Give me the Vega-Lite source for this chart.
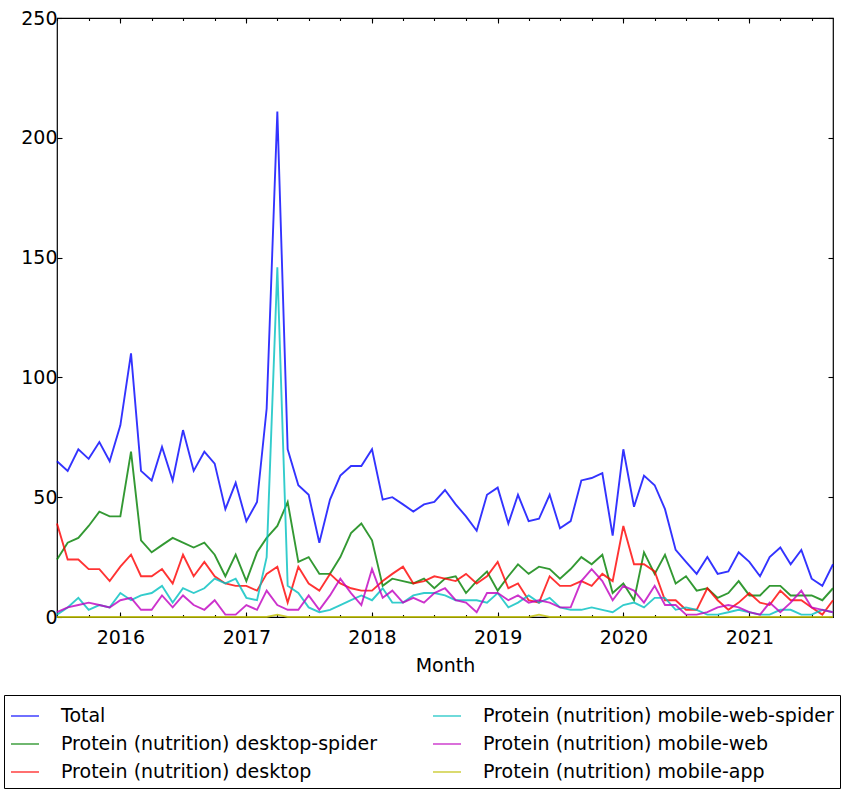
{
  "$schema": "https://vega.github.io/schema/vega-lite/v6.json",
  "width": 776,
  "height": 599,
  "autosize": {"type": "none"},
  "padding": {"left": 57, "top": 18, "right": 24, "bottom": 177},
  "background": "white",
  "config": {
    "font": "DejaVu Sans",
    "view": {"stroke": "black", "strokeWidth": 1.2},
    "axis": {
      "domain": false,
      "grid": false,
      "tickColor": "black",
      "tickWidth": 1.1,
      "labelColor": "black",
      "labelFont": "DejaVu Sans",
      "labelFontSize": 19,
      "titleFont": "DejaVu Sans",
      "titleFontSize": 19,
      "titleFontWeight": "normal",
      "titleColor": "black"
    }
  },
  "data": {
    "values": [
      {"month": "2015-07-01", "Total": 65, "Protein (nutrition) desktop-spider": 24, "Protein (nutrition) desktop": 39, "Protein (nutrition) mobile-web-spider": 1, "Protein (nutrition) mobile-web": 2, "Protein (nutrition) mobile-app": 0},
      {"month": "2015-08-01", "Total": 61, "Protein (nutrition) desktop-spider": 31, "Protein (nutrition) desktop": 24, "Protein (nutrition) mobile-web-spider": 4, "Protein (nutrition) mobile-web": 4, "Protein (nutrition) mobile-app": 0},
      {"month": "2015-09-01", "Total": 70, "Protein (nutrition) desktop-spider": 33, "Protein (nutrition) desktop": 24, "Protein (nutrition) mobile-web-spider": 8, "Protein (nutrition) mobile-web": 5, "Protein (nutrition) mobile-app": 0},
      {"month": "2015-10-01", "Total": 66, "Protein (nutrition) desktop-spider": 38, "Protein (nutrition) desktop": 20, "Protein (nutrition) mobile-web-spider": 3, "Protein (nutrition) mobile-web": 6, "Protein (nutrition) mobile-app": 0},
      {"month": "2015-11-01", "Total": 73, "Protein (nutrition) desktop-spider": 44, "Protein (nutrition) desktop": 20, "Protein (nutrition) mobile-web-spider": 5, "Protein (nutrition) mobile-web": 5, "Protein (nutrition) mobile-app": 0},
      {"month": "2015-12-01", "Total": 65, "Protein (nutrition) desktop-spider": 42, "Protein (nutrition) desktop": 15, "Protein (nutrition) mobile-web-spider": 4, "Protein (nutrition) mobile-web": 4, "Protein (nutrition) mobile-app": 0},
      {"month": "2016-01-01", "Total": 80, "Protein (nutrition) desktop-spider": 42, "Protein (nutrition) desktop": 21, "Protein (nutrition) mobile-web-spider": 10, "Protein (nutrition) mobile-web": 7, "Protein (nutrition) mobile-app": 0},
      {"month": "2016-02-01", "Total": 110, "Protein (nutrition) desktop-spider": 69, "Protein (nutrition) desktop": 26, "Protein (nutrition) mobile-web-spider": 7, "Protein (nutrition) mobile-web": 8, "Protein (nutrition) mobile-app": 0},
      {"month": "2016-03-01", "Total": 61, "Protein (nutrition) desktop-spider": 32, "Protein (nutrition) desktop": 17, "Protein (nutrition) mobile-web-spider": 9, "Protein (nutrition) mobile-web": 3, "Protein (nutrition) mobile-app": 0},
      {"month": "2016-04-01", "Total": 57, "Protein (nutrition) desktop-spider": 27, "Protein (nutrition) desktop": 17, "Protein (nutrition) mobile-web-spider": 10, "Protein (nutrition) mobile-web": 3, "Protein (nutrition) mobile-app": 0},
      {"month": "2016-05-01", "Total": 71, "Protein (nutrition) desktop-spider": 30, "Protein (nutrition) desktop": 20, "Protein (nutrition) mobile-web-spider": 13, "Protein (nutrition) mobile-web": 9, "Protein (nutrition) mobile-app": 0},
      {"month": "2016-06-01", "Total": 57, "Protein (nutrition) desktop-spider": 33, "Protein (nutrition) desktop": 14, "Protein (nutrition) mobile-web-spider": 6, "Protein (nutrition) mobile-web": 4, "Protein (nutrition) mobile-app": 0},
      {"month": "2016-07-01", "Total": 78, "Protein (nutrition) desktop-spider": 31, "Protein (nutrition) desktop": 26, "Protein (nutrition) mobile-web-spider": 12, "Protein (nutrition) mobile-web": 9, "Protein (nutrition) mobile-app": 0},
      {"month": "2016-08-01", "Total": 61, "Protein (nutrition) desktop-spider": 29, "Protein (nutrition) desktop": 17, "Protein (nutrition) mobile-web-spider": 10, "Protein (nutrition) mobile-web": 5, "Protein (nutrition) mobile-app": 0},
      {"month": "2016-09-01", "Total": 69, "Protein (nutrition) desktop-spider": 31, "Protein (nutrition) desktop": 23, "Protein (nutrition) mobile-web-spider": 12, "Protein (nutrition) mobile-web": 3, "Protein (nutrition) mobile-app": 0},
      {"month": "2016-10-01", "Total": 64, "Protein (nutrition) desktop-spider": 26, "Protein (nutrition) desktop": 17, "Protein (nutrition) mobile-web-spider": 16, "Protein (nutrition) mobile-web": 7, "Protein (nutrition) mobile-app": 0},
      {"month": "2016-11-01", "Total": 45, "Protein (nutrition) desktop-spider": 17, "Protein (nutrition) desktop": 14, "Protein (nutrition) mobile-web-spider": 14, "Protein (nutrition) mobile-web": 1, "Protein (nutrition) mobile-app": 0},
      {"month": "2016-12-01", "Total": 56, "Protein (nutrition) desktop-spider": 26, "Protein (nutrition) desktop": 13, "Protein (nutrition) mobile-web-spider": 16, "Protein (nutrition) mobile-web": 1, "Protein (nutrition) mobile-app": 0},
      {"month": "2017-01-01", "Total": 40, "Protein (nutrition) desktop-spider": 15, "Protein (nutrition) desktop": 13, "Protein (nutrition) mobile-web-spider": 8, "Protein (nutrition) mobile-web": 5, "Protein (nutrition) mobile-app": 0},
      {"month": "2017-02-01", "Total": 48, "Protein (nutrition) desktop-spider": 27, "Protein (nutrition) desktop": 11, "Protein (nutrition) mobile-web-spider": 7, "Protein (nutrition) mobile-web": 3, "Protein (nutrition) mobile-app": 0},
      {"month": "2017-03-01", "Total": 87, "Protein (nutrition) desktop-spider": 33, "Protein (nutrition) desktop": 18, "Protein (nutrition) mobile-web-spider": 25, "Protein (nutrition) mobile-web": 11, "Protein (nutrition) mobile-app": 0},
      {"month": "2017-04-01", "Total": 211, "Protein (nutrition) desktop-spider": 38, "Protein (nutrition) desktop": 21, "Protein (nutrition) mobile-web-spider": 146, "Protein (nutrition) mobile-web": 5, "Protein (nutrition) mobile-app": 1},
      {"month": "2017-05-01", "Total": 70, "Protein (nutrition) desktop-spider": 48, "Protein (nutrition) desktop": 6, "Protein (nutrition) mobile-web-spider": 13, "Protein (nutrition) mobile-web": 3, "Protein (nutrition) mobile-app": 0},
      {"month": "2017-06-01", "Total": 55, "Protein (nutrition) desktop-spider": 23, "Protein (nutrition) desktop": 21, "Protein (nutrition) mobile-web-spider": 10, "Protein (nutrition) mobile-web": 3, "Protein (nutrition) mobile-app": 0},
      {"month": "2017-07-01", "Total": 51, "Protein (nutrition) desktop-spider": 25, "Protein (nutrition) desktop": 14, "Protein (nutrition) mobile-web-spider": 4, "Protein (nutrition) mobile-web": 9, "Protein (nutrition) mobile-app": 0},
      {"month": "2017-08-01", "Total": 31, "Protein (nutrition) desktop-spider": 18, "Protein (nutrition) desktop": 11, "Protein (nutrition) mobile-web-spider": 2, "Protein (nutrition) mobile-web": 3, "Protein (nutrition) mobile-app": 0},
      {"month": "2017-09-01", "Total": 49, "Protein (nutrition) desktop-spider": 18, "Protein (nutrition) desktop": 18, "Protein (nutrition) mobile-web-spider": 3, "Protein (nutrition) mobile-web": 9, "Protein (nutrition) mobile-app": 0},
      {"month": "2017-10-01", "Total": 59, "Protein (nutrition) desktop-spider": 25, "Protein (nutrition) desktop": 14, "Protein (nutrition) mobile-web-spider": 5, "Protein (nutrition) mobile-web": 16, "Protein (nutrition) mobile-app": 0},
      {"month": "2017-11-01", "Total": 63, "Protein (nutrition) desktop-spider": 35, "Protein (nutrition) desktop": 12, "Protein (nutrition) mobile-web-spider": 7, "Protein (nutrition) mobile-web": 10, "Protein (nutrition) mobile-app": 0},
      {"month": "2017-12-01", "Total": 63, "Protein (nutrition) desktop-spider": 39, "Protein (nutrition) desktop": 11, "Protein (nutrition) mobile-web-spider": 9, "Protein (nutrition) mobile-web": 5, "Protein (nutrition) mobile-app": 0},
      {"month": "2018-01-01", "Total": 70, "Protein (nutrition) desktop-spider": 32, "Protein (nutrition) desktop": 11, "Protein (nutrition) mobile-web-spider": 7, "Protein (nutrition) mobile-web": 20, "Protein (nutrition) mobile-app": 0},
      {"month": "2018-02-01", "Total": 49, "Protein (nutrition) desktop-spider": 13, "Protein (nutrition) desktop": 15, "Protein (nutrition) mobile-web-spider": 12, "Protein (nutrition) mobile-web": 8, "Protein (nutrition) mobile-app": 0},
      {"month": "2018-03-01", "Total": 50, "Protein (nutrition) desktop-spider": 16, "Protein (nutrition) desktop": 18, "Protein (nutrition) mobile-web-spider": 6, "Protein (nutrition) mobile-web": 11, "Protein (nutrition) mobile-app": 0},
      {"month": "2018-04-01", "Total": 47, "Protein (nutrition) desktop-spider": 15, "Protein (nutrition) desktop": 21, "Protein (nutrition) mobile-web-spider": 6, "Protein (nutrition) mobile-web": 6, "Protein (nutrition) mobile-app": 0},
      {"month": "2018-05-01", "Total": 44, "Protein (nutrition) desktop-spider": 14, "Protein (nutrition) desktop": 14, "Protein (nutrition) mobile-web-spider": 9, "Protein (nutrition) mobile-web": 8, "Protein (nutrition) mobile-app": 0},
      {"month": "2018-06-01", "Total": 47, "Protein (nutrition) desktop-spider": 16, "Protein (nutrition) desktop": 15, "Protein (nutrition) mobile-web-spider": 10, "Protein (nutrition) mobile-web": 6, "Protein (nutrition) mobile-app": 0},
      {"month": "2018-07-01", "Total": 48, "Protein (nutrition) desktop-spider": 12, "Protein (nutrition) desktop": 17, "Protein (nutrition) mobile-web-spider": 10, "Protein (nutrition) mobile-web": 10, "Protein (nutrition) mobile-app": 0},
      {"month": "2018-08-01", "Total": 53, "Protein (nutrition) desktop-spider": 16, "Protein (nutrition) desktop": 16, "Protein (nutrition) mobile-web-spider": 9, "Protein (nutrition) mobile-web": 12, "Protein (nutrition) mobile-app": 0},
      {"month": "2018-09-01", "Total": 47, "Protein (nutrition) desktop-spider": 17, "Protein (nutrition) desktop": 15, "Protein (nutrition) mobile-web-spider": 7, "Protein (nutrition) mobile-web": 7, "Protein (nutrition) mobile-app": 0},
      {"month": "2018-10-01", "Total": 42, "Protein (nutrition) desktop-spider": 10, "Protein (nutrition) desktop": 18, "Protein (nutrition) mobile-web-spider": 7, "Protein (nutrition) mobile-web": 6, "Protein (nutrition) mobile-app": 0},
      {"month": "2018-11-01", "Total": 36, "Protein (nutrition) desktop-spider": 15, "Protein (nutrition) desktop": 14, "Protein (nutrition) mobile-web-spider": 7, "Protein (nutrition) mobile-web": 2, "Protein (nutrition) mobile-app": 0},
      {"month": "2018-12-01", "Total": 51, "Protein (nutrition) desktop-spider": 19, "Protein (nutrition) desktop": 17, "Protein (nutrition) mobile-web-spider": 6, "Protein (nutrition) mobile-web": 10, "Protein (nutrition) mobile-app": 0},
      {"month": "2019-01-01", "Total": 54, "Protein (nutrition) desktop-spider": 11, "Protein (nutrition) desktop": 23, "Protein (nutrition) mobile-web-spider": 10, "Protein (nutrition) mobile-web": 10, "Protein (nutrition) mobile-app": 0},
      {"month": "2019-02-01", "Total": 39, "Protein (nutrition) desktop-spider": 17, "Protein (nutrition) desktop": 12, "Protein (nutrition) mobile-web-spider": 4, "Protein (nutrition) mobile-web": 7, "Protein (nutrition) mobile-app": 0},
      {"month": "2019-03-01", "Total": 51, "Protein (nutrition) desktop-spider": 22, "Protein (nutrition) desktop": 14, "Protein (nutrition) mobile-web-spider": 6, "Protein (nutrition) mobile-web": 9, "Protein (nutrition) mobile-app": 0},
      {"month": "2019-04-01", "Total": 40, "Protein (nutrition) desktop-spider": 18, "Protein (nutrition) desktop": 7, "Protein (nutrition) mobile-web-spider": 9, "Protein (nutrition) mobile-web": 6, "Protein (nutrition) mobile-app": 0},
      {"month": "2019-05-01", "Total": 41, "Protein (nutrition) desktop-spider": 21, "Protein (nutrition) desktop": 6, "Protein (nutrition) mobile-web-spider": 6, "Protein (nutrition) mobile-web": 7, "Protein (nutrition) mobile-app": 1},
      {"month": "2019-06-01", "Total": 51, "Protein (nutrition) desktop-spider": 20, "Protein (nutrition) desktop": 17, "Protein (nutrition) mobile-web-spider": 8, "Protein (nutrition) mobile-web": 6, "Protein (nutrition) mobile-app": 0},
      {"month": "2019-07-01", "Total": 37, "Protein (nutrition) desktop-spider": 16, "Protein (nutrition) desktop": 13, "Protein (nutrition) mobile-web-spider": 4, "Protein (nutrition) mobile-web": 4, "Protein (nutrition) mobile-app": 0},
      {"month": "2019-08-01", "Total": 40, "Protein (nutrition) desktop-spider": 20, "Protein (nutrition) desktop": 13, "Protein (nutrition) mobile-web-spider": 3, "Protein (nutrition) mobile-web": 4, "Protein (nutrition) mobile-app": 0},
      {"month": "2019-09-01", "Total": 57, "Protein (nutrition) desktop-spider": 25, "Protein (nutrition) desktop": 15, "Protein (nutrition) mobile-web-spider": 3, "Protein (nutrition) mobile-web": 15, "Protein (nutrition) mobile-app": 0},
      {"month": "2019-10-01", "Total": 58, "Protein (nutrition) desktop-spider": 22, "Protein (nutrition) desktop": 13, "Protein (nutrition) mobile-web-spider": 4, "Protein (nutrition) mobile-web": 20, "Protein (nutrition) mobile-app": 0},
      {"month": "2019-11-01", "Total": 60, "Protein (nutrition) desktop-spider": 26, "Protein (nutrition) desktop": 18, "Protein (nutrition) mobile-web-spider": 3, "Protein (nutrition) mobile-web": 15, "Protein (nutrition) mobile-app": 0},
      {"month": "2019-12-01", "Total": 34, "Protein (nutrition) desktop-spider": 10, "Protein (nutrition) desktop": 15, "Protein (nutrition) mobile-web-spider": 2, "Protein (nutrition) mobile-web": 7, "Protein (nutrition) mobile-app": 0},
      {"month": "2020-01-01", "Total": 70, "Protein (nutrition) desktop-spider": 14, "Protein (nutrition) desktop": 38, "Protein (nutrition) mobile-web-spider": 5, "Protein (nutrition) mobile-web": 13, "Protein (nutrition) mobile-app": 0},
      {"month": "2020-02-01", "Total": 46, "Protein (nutrition) desktop-spider": 7, "Protein (nutrition) desktop": 22, "Protein (nutrition) mobile-web-spider": 6, "Protein (nutrition) mobile-web": 11, "Protein (nutrition) mobile-app": 0},
      {"month": "2020-03-01", "Total": 59, "Protein (nutrition) desktop-spider": 27, "Protein (nutrition) desktop": 22, "Protein (nutrition) mobile-web-spider": 4, "Protein (nutrition) mobile-web": 6, "Protein (nutrition) mobile-app": 0},
      {"month": "2020-04-01", "Total": 55, "Protein (nutrition) desktop-spider": 18, "Protein (nutrition) desktop": 19, "Protein (nutrition) mobile-web-spider": 8, "Protein (nutrition) mobile-web": 13, "Protein (nutrition) mobile-app": 0},
      {"month": "2020-05-01", "Total": 45, "Protein (nutrition) desktop-spider": 26, "Protein (nutrition) desktop": 7, "Protein (nutrition) mobile-web-spider": 8, "Protein (nutrition) mobile-web": 5, "Protein (nutrition) mobile-app": 0},
      {"month": "2020-06-01", "Total": 28, "Protein (nutrition) desktop-spider": 14, "Protein (nutrition) desktop": 7, "Protein (nutrition) mobile-web-spider": 3, "Protein (nutrition) mobile-web": 5, "Protein (nutrition) mobile-app": 0},
      {"month": "2020-07-01", "Total": 23, "Protein (nutrition) desktop-spider": 17, "Protein (nutrition) desktop": 3, "Protein (nutrition) mobile-web-spider": 4, "Protein (nutrition) mobile-web": 1, "Protein (nutrition) mobile-app": 0},
      {"month": "2020-08-01", "Total": 18, "Protein (nutrition) desktop-spider": 11, "Protein (nutrition) desktop": 3, "Protein (nutrition) mobile-web-spider": 3, "Protein (nutrition) mobile-web": 1, "Protein (nutrition) mobile-app": 0},
      {"month": "2020-09-01", "Total": 25, "Protein (nutrition) desktop-spider": 12, "Protein (nutrition) desktop": 12, "Protein (nutrition) mobile-web-spider": 1, "Protein (nutrition) mobile-web": 2, "Protein (nutrition) mobile-app": 0},
      {"month": "2020-10-01", "Total": 18, "Protein (nutrition) desktop-spider": 8, "Protein (nutrition) desktop": 7, "Protein (nutrition) mobile-web-spider": 1, "Protein (nutrition) mobile-web": 4, "Protein (nutrition) mobile-app": 0},
      {"month": "2020-11-01", "Total": 19, "Protein (nutrition) desktop-spider": 10, "Protein (nutrition) desktop": 3, "Protein (nutrition) mobile-web-spider": 2, "Protein (nutrition) mobile-web": 5, "Protein (nutrition) mobile-app": 0},
      {"month": "2020-12-01", "Total": 27, "Protein (nutrition) desktop-spider": 15, "Protein (nutrition) desktop": 6, "Protein (nutrition) mobile-web-spider": 3, "Protein (nutrition) mobile-web": 4, "Protein (nutrition) mobile-app": 0},
      {"month": "2021-01-01", "Total": 23, "Protein (nutrition) desktop-spider": 9, "Protein (nutrition) desktop": 10, "Protein (nutrition) mobile-web-spider": 2, "Protein (nutrition) mobile-web": 2, "Protein (nutrition) mobile-app": 0},
      {"month": "2021-02-01", "Total": 17, "Protein (nutrition) desktop-spider": 9, "Protein (nutrition) desktop": 6, "Protein (nutrition) mobile-web-spider": 1, "Protein (nutrition) mobile-web": 1, "Protein (nutrition) mobile-app": 0},
      {"month": "2021-03-01", "Total": 25, "Protein (nutrition) desktop-spider": 13, "Protein (nutrition) desktop": 5, "Protein (nutrition) mobile-web-spider": 1, "Protein (nutrition) mobile-web": 6, "Protein (nutrition) mobile-app": 0},
      {"month": "2021-04-01", "Total": 29, "Protein (nutrition) desktop-spider": 13, "Protein (nutrition) desktop": 11, "Protein (nutrition) mobile-web-spider": 3, "Protein (nutrition) mobile-web": 2, "Protein (nutrition) mobile-app": 0},
      {"month": "2021-05-01", "Total": 22, "Protein (nutrition) desktop-spider": 9, "Protein (nutrition) desktop": 7, "Protein (nutrition) mobile-web-spider": 3, "Protein (nutrition) mobile-web": 6, "Protein (nutrition) mobile-app": 0},
      {"month": "2021-06-01", "Total": 28, "Protein (nutrition) desktop-spider": 9, "Protein (nutrition) desktop": 7, "Protein (nutrition) mobile-web-spider": 1, "Protein (nutrition) mobile-web": 11, "Protein (nutrition) mobile-app": 0},
      {"month": "2021-07-01", "Total": 16, "Protein (nutrition) desktop-spider": 9, "Protein (nutrition) desktop": 4, "Protein (nutrition) mobile-web-spider": 1, "Protein (nutrition) mobile-web": 4, "Protein (nutrition) mobile-app": 0},
      {"month": "2021-08-01", "Total": 13, "Protein (nutrition) desktop-spider": 7, "Protein (nutrition) desktop": 1, "Protein (nutrition) mobile-web-spider": 3, "Protein (nutrition) mobile-web": 3, "Protein (nutrition) mobile-app": 0},
      {"month": "2021-09-01", "Total": 22, "Protein (nutrition) desktop-spider": 12, "Protein (nutrition) desktop": 7, "Protein (nutrition) mobile-web-spider": 2, "Protein (nutrition) mobile-web": 2, "Protein (nutrition) mobile-app": 0}
    ]
  },
  "transform": [
    {"fold": ["Total", "Protein (nutrition) desktop-spider", "Protein (nutrition) desktop", "Protein (nutrition) mobile-web-spider", "Protein (nutrition) mobile-web", "Protein (nutrition) mobile-app"], "as": ["series", "views"]}
  ],
  "layer": [
    {
      "mark": {"type": "line", "strokeWidth": 1.9, "opacity": 0.8},
      "encoding": {
        "x": {
          "field": "month", "type": "temporal",
          "scale": {"type": "utc", "domain": ["2015-07-01", "2021-09-01"], "nice": false},
          "axis": {"orient": "bottom", "title": "Month", "format": "%Y", "tickCount": {"interval": "year", "step": 1}, "tickSize": -5, "labelPadding": 16, "titlePadding": 9, "labelFlush": false, "labelOverlap": false}
        },
        "y": {
          "field": "views", "type": "quantitative",
          "scale": {"domain": [0, 250], "nice": false, "zero": true},
          "axis": {"orient": "left", "title": null, "values": [0, 50, 100, 150, 200, 250], "tickSize": -5, "labelPadding": 5}
        },
        "color": {
          "field": "series", "type": "nominal",
          "scale": {
            "domain": ["Total", "Protein (nutrition) desktop-spider", "Protein (nutrition) desktop", "Protein (nutrition) mobile-web-spider", "Protein (nutrition) mobile-web", "Protein (nutrition) mobile-app"],
            "range": ["#0000ff", "#008000", "#ff0000", "#00bfbf", "#bf00bf", "#bfbf00"]
          },
          "legend": {
            "orient": "none", "legendX": -53, "legendY": 677, "columns": 2, "title": null,
            "strokeColor": "black", "fillColor": "white", "padding": 6, "cornerRadius": 0,
            "symbolType": "stroke", "symbolSize": 784, "symbolStrokeWidth": 1.6, "symbolOpacity": 0.7,
            "labelFont": "DejaVu Sans", "labelFontSize": 19, "labelColor": "black", "labelLimit": 0,
            "labelOffset": 21, "columnPadding": 52, "rowPadding": 3
          }
        }
      }
    },
    {
      "mark": {"type": "point", "opacity": 0},
      "encoding": {
        "x": {"field": "month", "type": "temporal", "scale": {"type": "utc", "domain": ["2015-07-01", "2021-09-01"], "nice": false},
              "axis": {"orient": "top", "title": null, "labels": false, "tickCount": {"interval": "year", "step": 1}, "tickSize": -5}},
        "y": {"field": "views", "type": "quantitative", "scale": {"domain": [0, 250], "nice": false},
              "axis": {"orient": "right", "title": null, "labels": false, "values": [0, 50, 100, 150, 200, 250], "tickSize": -5}}
      }
    },
    {
      "mark": {"type": "point", "opacity": 0},
      "encoding": {
        "x": {"field": "month", "type": "temporal", "scale": {"type": "utc", "domain": ["2015-07-01", "2021-09-01"], "nice": false},
              "axis": {"orient": "bottom", "title": null, "labels": false, "tickCount": {"interval": "month", "step": 3}, "tickSize": -2.5}},
        "y": {"field": "views", "type": "quantitative", "scale": {"domain": [0, 250], "nice": false}, "axis": null}
      }
    },
    {
      "mark": {"type": "point", "opacity": 0},
      "encoding": {
        "x": {"field": "month", "type": "temporal", "scale": {"type": "utc", "domain": ["2015-07-01", "2021-09-01"], "nice": false},
              "axis": {"orient": "top", "title": null, "labels": false, "tickCount": {"interval": "month", "step": 3}, "tickSize": -2.5}},
        "y": {"field": "views", "type": "quantitative", "scale": {"domain": [0, 250], "nice": false}, "axis": null}
      }
    }
  ],
  "resolve": {"axis": {"x": "independent", "y": "independent"}}
}
